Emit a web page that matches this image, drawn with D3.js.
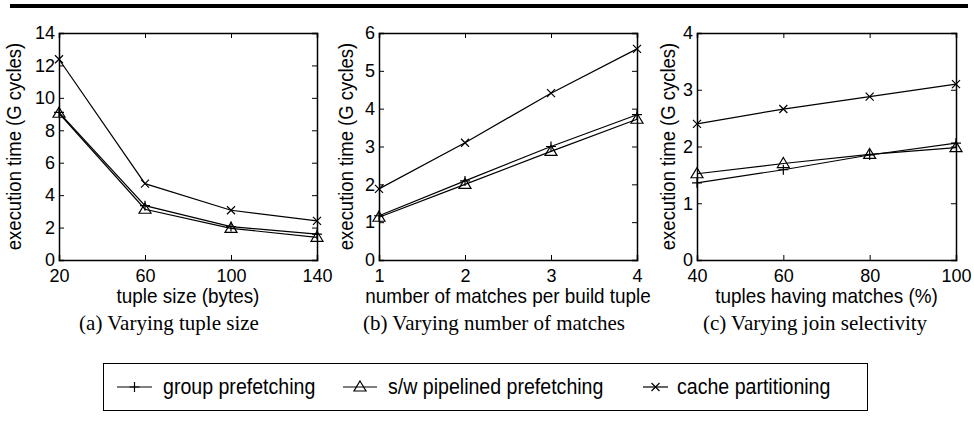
<!DOCTYPE html>
<html>
<head>
<meta charset="utf-8">
<script src="https://cdn.jsdelivr.net/npm/d3@7"></script>
<style>
  body { margin: 0; background: #fff; }
  text { fill: #000; }
</style>
</head>
<body>
<script>
// data
var seriesNames = ["group prefetching", "s/w pipelined prefetching", "cache partitioning"];
var seriesMarks = ["plus", "triangle", "cross"];

var xA = [20, 60, 100, 140];
var groupA = [9.1, 3.35, 2.06, 1.59];
var pipeA = [9.05, 3.13, 1.95, 1.40];
var cacheA = [12.38, 4.71, 3.07, 2.41];
var yTicksA = [0, 2, 4, 6, 8, 10, 12, 14];

var xB = [1, 2, 3, 4];
var groupB = [1.17, 2.09, 3.0, 3.84];
var pipeB = [1.13, 2.0, 2.87, 3.72];
var cacheB = [1.88, 3.10, 4.41, 5.58];
var yTicksB = [0, 1, 2, 3, 4, 5, 6];

var xC = [40, 60, 80, 100];
var groupC = [1.36, 1.59, 1.85, 2.06];
var pipeC = [1.52, 1.70, 1.86, 1.98];
var cacheC = [2.40, 2.66, 2.88, 3.10];
var yTicksC = [0, 1, 2, 3, 4];

var xTitles = ["tuple size (bytes)", "number of matches per build tuple", "tuples having matches (%)"];
var captions = ["(a) Varying tuple size", "(b) Varying number of matches", "(c) Varying join selectivity"];
var yTitle = "execution time (G cycles)";

window.onload = function() {
  var w = 974, h = 426;
  var sans = "'Liberation Sans', Arial, Helvetica, sans-serif";
  var serif = "'Liberation Serif', 'Times New Roman', serif";

  var svg = d3.select("body").append("svg")
    .attr("width", w)
    .attr("height", h);

  // narrow tall sans text like the matlab export
  function label(parent, x, y, size, squeeze, rot) {
    return parent.append("text")
      .attr("transform", "translate(" + x + "," + y + ")" + (rot ? " rotate(" + rot + ")" : "") + " scale(" + squeeze + ",1)")
      .attr("font-family", sans).attr("font-size", size);
  }

  // thick rule at the top of the page
  svg.append("rect")
    .attr("x", 10).attr("y", 4)
    .attr("width", 958).attr("height", 4)
    .attr("fill", "#000");

  var panels = [
    { left: 59,  right: 317, x: xA, ys: [groupA, pipeA, cacheA], yTicks: yTicksA, titleX: 21,  capX: 169 },
    { left: 379, right: 637, x: xB, ys: [groupB, pipeB, cacheB], yTicks: yTicksB, titleX: 353, capX: 494 },
    { left: 697, right: 956, x: xC, ys: [groupC, pipeC, cacheC], yTicks: yTicksC, titleX: 675, capX: 815 }
  ];
  var top = 33, bottom = 260;

  function drawMark(g, kind, cx, cy) {
    if (kind == "plus") {
      g.append("path").attr("d", "M" + (cx - 5) + "," + cy + "H" + (cx + 5) + "M" + cx + "," + (cy - 5) + "V" + (cy + 5));
    } else if (kind == "triangle") {
      g.append("path").attr("d", "M" + cx + "," + (cy - 6) + "L" + (cx + 6) + "," + (cy + 4) + "L" + (cx - 6) + "," + (cy + 4) + "Z");
    } else {
      g.append("path").attr("d", "M" + (cx - 4) + "," + (cy - 4) + "L" + (cx + 4) + "," + (cy + 4) + "M" + (cx - 4) + "," + (cy + 4) + "L" + (cx + 4) + "," + (cy - 4));
    }
  }

  panels.forEach(function(p, i) {
    var x = d3.scaleLinear().domain(d3.extent(p.x)).range([p.left, p.right]);
    var y = d3.scaleLinear().domain(d3.extent(p.yTicks)).range([bottom, top]);
    var g = svg.append("g");

    // axes with inward ticks on all four sides
    var ax = [
      g.append("g").attr("transform", "translate(0," + bottom + ")")
        .call(d3.axisBottom(x).tickValues(p.x).tickSize(-5).tickPadding(9).tickFormat(d3.format("d"))),
      g.append("g").attr("transform", "translate(0," + top + ")")
        .call(d3.axisTop(x).tickValues(p.x).tickSize(-5).tickFormat("")),
      g.append("g").attr("transform", "translate(" + p.left + ",0)")
        .call(d3.axisLeft(y).tickValues(p.yTicks).tickSize(-5).tickPadding(4).tickFormat(d3.format("d"))),
      g.append("g").attr("transform", "translate(" + p.right + ",0)")
        .call(d3.axisRight(y).tickValues(p.yTicks).tickSize(-5).tickFormat(""))
    ];
    ax.forEach(function(a) {
      a.selectAll(".domain").attr("stroke", "#000").attr("stroke-width", 1.5);
      a.selectAll(".tick line").attr("stroke", "#000");
      a.selectAll("text")
        .attr("font-family", sans).attr("font-size", 18).attr("fill", "#000");
    });

    // series lines and markers
    var line = d3.line().x(function(d) { return x(d[0]); }).y(function(d) { return y(d[1]); });
    p.ys.forEach(function(vals, s) {
      var pts = p.x.map(function(v, k) { return [v, vals[k]]; });
      g.append("path").datum(pts)
        .attr("d", line)
        .attr("fill", "none").attr("stroke", "#000").attr("stroke-width", 1.2);
      var mg = g.append("g").attr("fill", "none").attr("stroke", "#000").attr("stroke-width", 1.2);
      pts.forEach(function(d) { drawMark(mg, seriesMarks[s], x(d[0]), y(d[1])); });
    });

    // titles
    label(g, p.titleX, (top + bottom) / 2, 21, 0.88, -90)
      .attr("text-anchor", "middle")
      .text(yTitle);
    label(g, (p.left + p.right) / 2, 303, 21, 0.9)
      .attr("text-anchor", "middle")
      .text(xTitles[i]);
    g.append("text")
      .attr("x", p.capX).attr("y", 330)
      .attr("text-anchor", "middle")
      .attr("font-family", serif).attr("font-size", 21)
      .text(captions[i]);
  });

  // legend
  var legend = svg.append("g");
  legend.append("rect")
    .attr("x", 103.5).attr("y", 363.5)
    .attr("width", 764).attr("height", 47)
    .attr("fill", "none").attr("stroke", "#000").attr("stroke-width", 1);
  var sampleX = [[117, 152], [343, 377], [643, 668]];
  var textX = [163, 388, 677];
  seriesNames.forEach(function(name, s) {
    var lg = legend.append("g").attr("fill", "none").attr("stroke", "#000").attr("stroke-width", 1.2);
    lg.append("line")
      .attr("x1", sampleX[s][0]).attr("x2", sampleX[s][1])
      .attr("y1", 387).attr("y2", 387);
    drawMark(lg, seriesMarks[s], (sampleX[s][0] + sampleX[s][1]) / 2, 387);
    label(legend, textX[s], 394, 22, 0.89).text(name);
  });
};
</script>
</body>
</html>
